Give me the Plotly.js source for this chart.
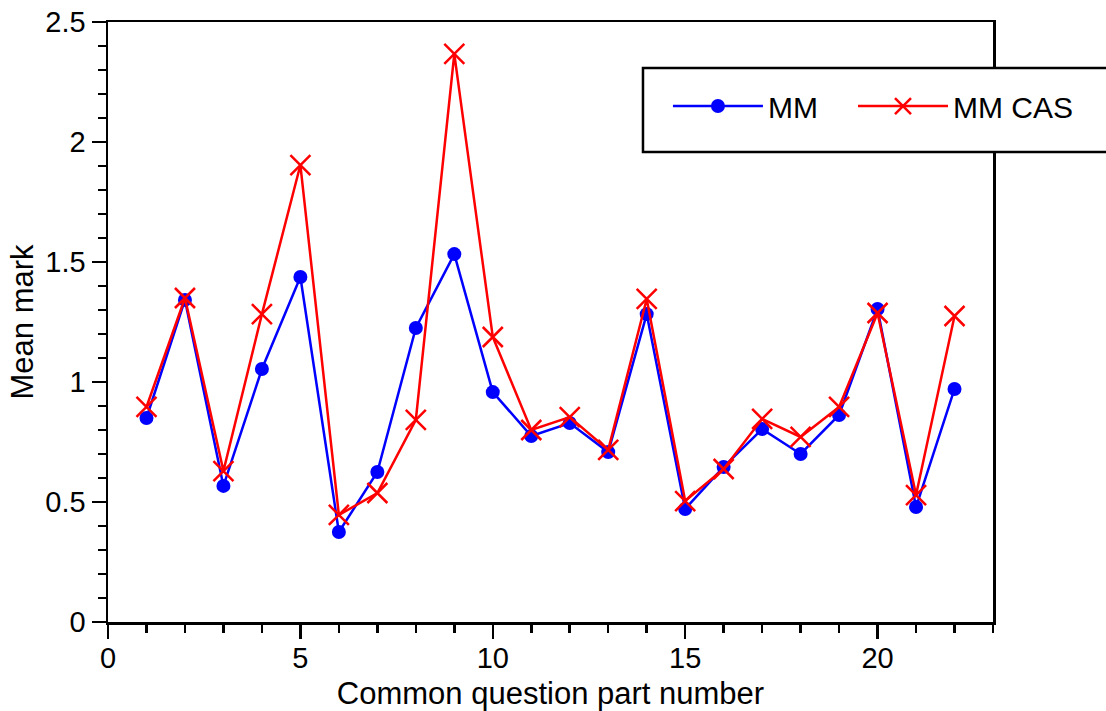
<!DOCTYPE html>
<html>
<head>
<meta charset="utf-8">
<script src="https://cdn.plot.ly/plotly-3.0.1.min.js"></script>
<style>html,body{margin:0;padding:0;background:#fff;}#chart{width:1106px;height:711px;}</style>
</head>
<body>
<div id="chart"></div>
<script>
const partNumbers = [1,2,3,4,5,6,7,8,9,10,11,12,13,14,15,16,17,18,19,20,21,22];
const mmValues = [0.85,1.342,0.567,1.054,1.4375,0.375,0.625,1.225,1.533,0.958,0.775,0.829,0.708,1.283,0.471,0.646,0.804,0.70,0.8625,1.304,0.479,0.971];
const mmCasValues = [0.896,1.35,0.629,1.283,1.904,0.446,0.5375,0.842,2.367,1.1875,0.80,0.854,0.717,1.346,0.504,0.6375,0.846,0.771,0.896,1.2875,0.529,1.275];
const seriesNames = ["MM", "MM CAS"];
const xTickVals = [0,5,10,15,20];
const yTickVals = [0,0.5,1,1.5,2,2.5];

const FONT = "Liberation Sans, Arial, Helvetica, sans-serif";

const traces = [
  {
    x: partNumbers, y: mmValues, name: seriesNames[0], type: "scatter", mode: "lines+markers",
    legend: "legend",
    line: {color: "#0000ff", width: 2.5},
    marker: {symbol: "circle", size: 14, color: "#0000ff"}
  },
  {
    x: partNumbers, y: mmCasValues, name: seriesNames[1], type: "scatter", mode: "lines+markers",
    legend: "legend2",
    line: {color: "#ff0000", width: 2.5},
    marker: {symbol: "x-thin-open", size: 20, color: "#ff0000", line: {color: "#ff0000", width: 2.5}}
  }
];

const axisCommon = {
  showgrid: false, zeroline: false, showline: true, mirror: true,
  linecolor: "#000", linewidth: 2.5,
  ticks: "outside", ticklen: 14, tickwidth: 2.5, tickcolor: "#000",
  tickfont: {family: FONT, size: 29, color: "#000"}
};

const legendCommon = {
  orientation: "v", y: 0.9033, xanchor: "left", yanchor: "top",
  bgcolor: "rgba(0,0,0,0)", borderwidth: 0,
  font: {family: FONT, size: 30, color: "#000"},
  itemwidth: 90, itemsizing: "trace"
};

const layout = {
  width: 1106, height: 711,
  margin: {l: 108, r: 113, t: 22, b: 89, autoexpand: false},
  paper_bgcolor: "#fff", plot_bgcolor: "#fff",
  font: {family: FONT, color: "#000"},
  showlegend: true,
  xaxis: Object.assign({}, axisCommon, {
    range: [0, 23], tickmode: "array", tickvals: xTickVals,
    ticklabelstandoff: -5,
    minor: {dtick: 1, ticks: "outside", ticklen: 8, tickwidth: 2.5, tickcolor: "#000", showgrid: false},
    title: {text: "Common question part number", font: {family: FONT, size: 31, color: "#000"}, standoff: 10}
  }),
  yaxis: Object.assign({}, axisCommon, {
    range: [0, 2.5], tickmode: "array", tickvals: yTickVals,
    minor: {dtick: 0.1, ticks: "outside", ticklen: 8, tickwidth: 2.5, tickcolor: "#000", showgrid: false},
    title: {text: "Mean mark", font: {family: FONT, size: 31, color: "#000"}, standoff: 3}
  }),
  shapes: [
    {type: "rect", xref: "paper", yref: "paper", x0: 0.6045, x1: 1.3, y0: 0.7833, y1: 0.9233,
     fillcolor: "#fff", line: {color: "#000", width: 2.5}, layer: "above"}
  ],
  legend: Object.assign({}, legendCommon, {x: 0.6327}),
  legend2: Object.assign({}, legendCommon, {x: 0.8418})
};

Plotly.newPlot("chart", traces, layout, {displayModeBar: false, staticPlot: true});
</script>
</body>
</html>
